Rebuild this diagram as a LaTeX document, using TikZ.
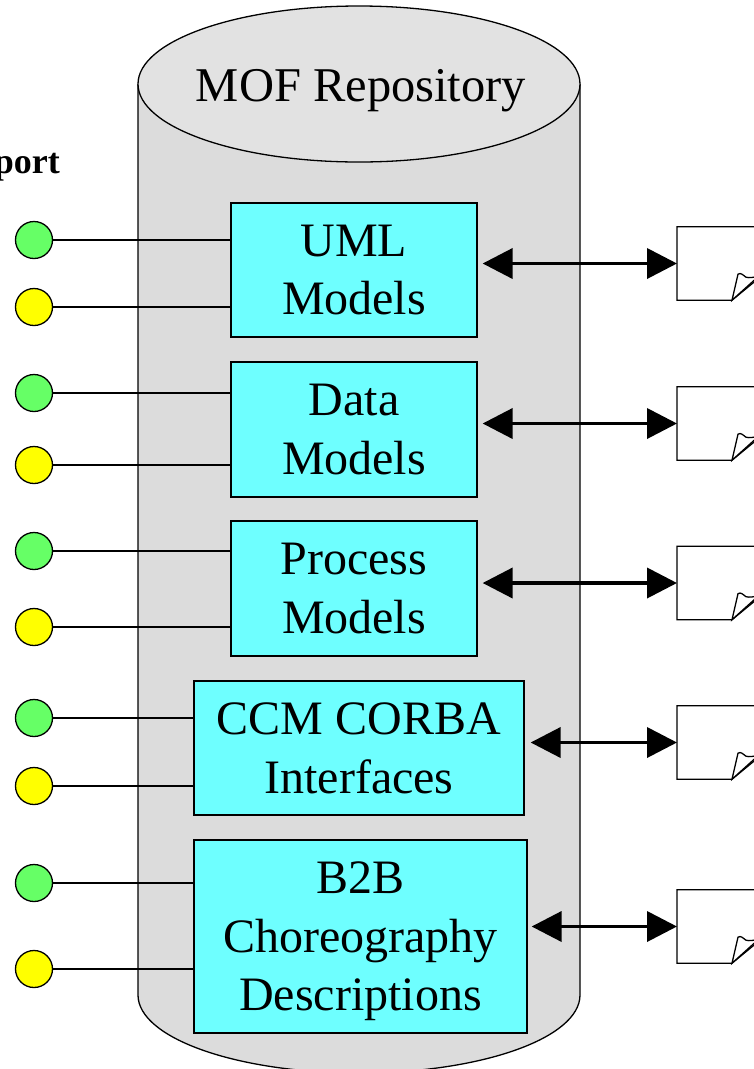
\documentclass[tikz,border=0pt]{standalone}
\usepackage{fontspec}
\setmainfont{Liberation Serif}
\usetikzlibrary{arrows.meta,calc}
\definecolor{cylbody}{RGB}{220,220,220}
\definecolor{cyltop}{RGB}{226,226,226}
\definecolor{boxcyan}{RGB}{110,255,255}
\definecolor{portgreen}{RGB}{102,255,102}
\definecolor{portyellow}{RGB}{255,255,0}
\tikzset{
  outline/.style={draw=black,line width=1.3pt},
  modelbox/.style={outline,fill=boxcyan,inner sep=0pt,align=center,text depth=0pt,
    font=\fontsize{48}{58.5}\selectfont},
  portdot/.style={outline,circle,minimum size=37pt,inner sep=0pt},
  greenport/.style={portdot,fill=portgreen},
  yellowport/.style={portdot,fill=portyellow},
  wire/.style={draw=black,line width=1.3pt},
  biarrow/.style={draw=black,line width=3.8pt,
    {Triangle[length=30pt,width=30pt]}-{Triangle[length=30pt,width=30pt]}},
  docanchor/.style={inner sep=0pt,minimum width=100pt,minimum height=73pt,anchor=west},
  docline/.style={draw=black,line width=1.3pt,fill=white,line join=miter},
}
\newcommand{\docicon}[2]{%
  \node[docanchor] (#1) at (677,#2) {};
  \draw[docline] (#1.north west) -- ++(120,0) -- ++(0,20)
     -- ($(#1.south west)+(55,0)$) -- (#1.south west) -- cycle;
  \draw[docline] ($(#1.south west)+(55,0)$) -- ++(6,-26)
     .. controls ++(3,-2) and ++(-3,-2) .. ++(8,3)
     .. controls ++(3,1) and ++(-3,1) .. ++(12,-1)
     -- ($(#1.south west)+(55,0)+(30,-27)$) -- cycle;
}
\begin{document}
\begin{tikzpicture}[x=1pt,y=-1pt]
\useasboundingbox (0,0) rectangle (754,1069);
\clip (0,0) rectangle (754,1069);
% cylinder
\draw[outline,fill=cylbody] (138,84) -- (138,995)
   arc[start angle=180,end angle=360,x radius=221,y radius=-78] -- (580,84);
\draw[outline,fill=cyltop] (359,84) ellipse [x radius=221,y radius=78];
\node[anchor=base,inner sep=0pt,font=\fontsize{48.5}{57}\selectfont] (title) at (361,101) {MOF Repository};
% port label
\node[anchor=base east,inner sep=0pt,font=\fontsize{36}{40}\selectfont\bfseries] (portlabel) at (60,173) {port};
% boxes
\node[modelbox,minimum width=246pt,minimum height=134pt] (b1) at (354,270) {UML\\Models};
\node[modelbox,minimum width=246pt,minimum height=135pt] (b2) at (354,429.5) {Data\\Models};
\node[modelbox,minimum width=246pt,minimum height=135pt] (b3) at (354,588.5) {Process\\Models};
\node[modelbox,minimum width=330pt,minimum height=134pt] (b4) at (359,748) {CCM CORBA\\Interfaces};
\node[modelbox,minimum width=333pt,minimum height=193pt] (b5) at (360.5,936.5) {B2B\\Choreography\\Descriptions};
% ports
\node[greenport] (g1) at (34,240) {};
\node[yellowport] (y1) at (34,307) {};
\node[greenport] (g2) at (34,393) {};
\node[yellowport] (y2) at (34,465) {};
\node[greenport] (g3) at (34,551) {};
\node[yellowport] (y3) at (34,627) {};
\node[greenport] (g4) at (34,718) {};
\node[yellowport] (y4) at (34,786) {};
\node[greenport] (g5) at (34,883) {};
\node[yellowport] (y5) at (34,969) {};
\draw[wire] (g1) -- (g1 -| b1.west);
\draw[wire] (y1) -- (y1 -| b1.west);
\draw[wire] (g2) -- (g2 -| b2.west);
\draw[wire] (y2) -- (y2 -| b2.west);
\draw[wire] (g3) -- (g3 -| b3.west);
\draw[wire] (y3) -- (y3 -| b3.west);
\draw[wire] (g4) -- (g4 -| b4.west);
\draw[wire] (y4) -- (y4 -| b4.west);
\draw[wire] (g5) -- (g5 -| b5.west);
\draw[wire] (y5) -- (y5 -| b5.west);
% documents
\docicon{d1}{263.5}
\docicon{d2}{423.5}
\docicon{d3}{583}
\docicon{d4}{742.5}
\docicon{d5}{926.5}
% arrows
\draw[biarrow] ([xshift=5pt]d1.west -| b1.east) -- (d1.west);
\draw[biarrow] ([xshift=5pt]d2.west -| b2.east) -- (d2.west);
\draw[biarrow] ([xshift=5pt]d3.west -| b3.east) -- (d3.west);
\draw[biarrow] ([xshift=6pt]d4.west -| b4.east) -- (d4.west);
\draw[biarrow] ([xshift=4pt]d5.west -| b5.east) -- (d5.west);
\end{tikzpicture}
\end{document}
